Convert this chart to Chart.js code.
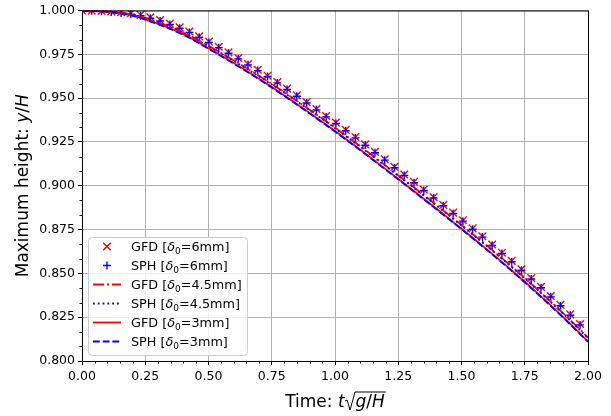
<!DOCTYPE html>
<html><head><meta charset="utf-8">
<script src="https://cdn.jsdelivr.net/npm/chart.js@4.4.0/dist/chart.umd.min.js"></script>
<style>html,body{margin:0;padding:0;background:#fff;}canvas{display:block;}</style>
</head><body>
<canvas id="c" width="611" height="416"></canvas>
<script>
// ---- data ----
const markerTime = [0.0000,0.0386,0.0772,0.1158,0.1544,0.1930,0.2316,0.2702,0.3088,0.3474,0.3860,0.4246,0.4632,0.5018,0.5404,0.5790,0.6176,0.6562,0.6948,0.7334,0.7720,0.8106,0.8492,0.8878,0.9264,0.9650,1.0036,1.0422,1.0808,1.1194,1.1580,1.1966,1.2352,1.2738,1.3124,1.3510,1.3896,1.4282,1.4668,1.5054,1.5440,1.5826,1.6212,1.6598,1.6984,1.7370,1.7756,1.8142,1.8528,1.8914,1.9300,1.9686];
const gfd6mm = [1.0000,0.9999,0.9998,0.9995,0.9990,0.9984,0.9975,0.9961,0.9945,0.9925,0.9904,0.9880,0.9852,0.9823,0.9793,0.9761,0.9729,0.9695,0.9662,0.9628,0.9592,0.9554,0.9516,0.9477,0.9438,0.9398,0.9360,0.9319,0.9278,0.9236,0.9193,0.9151,0.9108,0.9064,0.9022,0.8978,0.8935,0.8891,0.8847,0.8803,0.8757,0.8712,0.8665,0.8618,0.8571,0.8523,0.8473,0.8423,0.8371,0.8320,0.8266,0.8211];
const sph6mm = [1.0000,0.9998,0.9996,0.9992,0.9986,0.9979,0.9970,0.9956,0.9940,0.9920,0.9899,0.9875,0.9847,0.9818,0.9788,0.9756,0.9724,0.9690,0.9657,0.9623,0.9587,0.9549,0.9511,0.9472,0.9433,0.9393,0.9355,0.9314,0.9273,0.9231,0.9188,0.9146,0.9103,0.9059,0.9017,0.8973,0.8930,0.8886,0.8842,0.8798,0.8752,0.8707,0.8660,0.8613,0.8566,0.8518,0.8468,0.8418,0.8366,0.8315,0.8261,0.8206];
const lineTime = [0.0,0.1,0.2,0.3,0.4,0.5,0.6,0.7,0.8,0.9,1.0,1.1,1.2,1.3,1.4,1.5,1.6,1.7,1.8,1.9,2.0];
const gfd45mm = [1.0000,0.9995,0.9977,0.9933,0.9876,0.9798,0.9715,0.9627,0.9533,0.9434,0.9332,0.9225,0.9115,0.9004,0.8891,0.8776,0.8659,0.8537,0.8409,0.8275,0.8134];
const sph45mm = [1.0000,0.9994,0.9975,0.9930,0.9873,0.9795,0.9712,0.9624,0.9530,0.9431,0.9329,0.9222,0.9112,0.9001,0.8888,0.8773,0.8656,0.8534,0.8406,0.8272,0.8131];
const gfd3mm  = [1.0000,0.9993,0.9972,0.9925,0.9865,0.9785,0.9700,0.9610,0.9515,0.9415,0.9312,0.9205,0.9095,0.8983,0.8870,0.8755,0.8637,0.8515,0.8387,0.8253,0.8112];
const sph3mm  = [1.0000,0.9992,0.9970,0.9922,0.9862,0.9782,0.9697,0.9607,0.9512,0.9412,0.9309,0.9202,0.9092,0.8980,0.8867,0.8752,0.8634,0.8512,0.8384,0.8250,0.8109];
const xTickValues = [0.00,0.25,0.50,0.75,1.00,1.25,1.50,1.75,2.00];
const yTickValues = [0.800,0.825,0.850,0.875,0.900,0.925,0.950,0.975,1.000];
const methods = ['GFD','SPH','GFD','SPH','GFD','SPH'];
const sizes = ['6mm','6mm','4.5mm','4.5mm','3mm','3mm'];

const FONT = "'DejaVu Sans', sans-serif";
const RED = 'rgb(255,0,0)', BLUE = 'rgb(0,0,255)';
const pts = (xs, ys) => xs.map((v, i) => ({x: v, y: ys[i]}));

const datasets = [
  {data: pts(markerTime, gfd6mm), showLine: false, pointStyle: 'crossRot', pointRadius: 5.4, pointBorderWidth: 1.4, pointBorderColor: RED, borderColor: RED, backgroundColor: RED, marker: true},
  {data: pts(markerTime, sph6mm), showLine: false, pointStyle: 'cross', pointRadius: 4.0, pointBorderWidth: 1.4, pointBorderColor: BLUE, borderColor: BLUE, backgroundColor: BLUE, marker: true},
  {data: pts(lineTime, gfd45mm), borderColor: RED, borderWidth: 1.8, borderDash: [11, 3, 2, 3], pointRadius: 0},
  {data: pts(lineTime, sph45mm), borderColor: BLUE, borderWidth: 1.8, borderDash: [1.8, 3], pointRadius: 0},
  {data: pts(lineTime, gfd3mm), borderColor: RED, borderWidth: 1.8, borderDash: [], pointRadius: 0},
  {data: pts(lineTime, sph3mm), borderColor: BLUE, borderWidth: 1.8, borderDash: [6.8, 2.9], pointRadius: 0}
];
datasets.forEach((d, i) => {
  d.label = methods[i] + ' [δ0=' + sizes[i] + ']';
  d.order = datasets.length - i; // later datasets drawn on top
  d.fill = false;
  d.cubicInterpolationMode = 'monotone';
  d.borderCapStyle = 'butt';
});

function fontFor(seg, size) {
  const s = seg.sub ? size * 0.7 : size;
  return (seg.italic ? 'italic ' : '') + s + 'px ' + FONT;
}
function segWidth(ctx, seg, size) {
  if (seg.sqrt) return seg.w;
  ctx.font = fontFor(seg, size);
  return ctx.measureText(seg.t).width;
}
function drawRich(ctx, segs, x, y, size, align) {
  let total = 0;
  segs.forEach(s => total += segWidth(ctx, s, size));
  let cx = align === 'center' ? x - total / 2 : x;
  ctx.textBaseline = 'alphabetic';
  ctx.textAlign = 'left';
  segs.forEach((s, i) => {
    const w = segWidth(ctx, s, size);
    if (s.sqrt) {
      let barW = 0;
      for (let j = i + 1; j < segs.length; j++) barW += segWidth(ctx, segs[j], size);
      ctx.save();
      ctx.strokeStyle = '#000'; ctx.lineWidth = 1;
      ctx.beginPath();
      ctx.moveTo(cx + 0.5, y - 6);
      ctx.lineTo(cx + 2.5, y - 7);
      ctx.lineTo(cx + 5.5, y + 3);
      ctx.lineTo(cx + w - 0.5, y - 15);
      ctx.lineTo(cx + w + barW + 1, y - 15);
      ctx.stroke();
      ctx.restore();
    } else {
      ctx.font = fontFor(s, size);
      ctx.fillText(s.t, cx, y + (s.sub ? size * 0.22 : 0));
    }
    cx += w;
  });
}

const extras = {
  id: 'extras',
  afterDraw(chart) {
    const {ctx, chartArea: ca, scales: {x, y}} = chart;
    ctx.save();
    ctx.fillStyle = '#000';
    ctx.strokeStyle = '#000'; ctx.lineWidth = 1;
    ctx.beginPath();
    ctx.moveTo(ca.left, ca.top + 0.5); ctx.lineTo(ca.right + 0.5, ca.top + 0.5);
    ctx.moveTo(ca.right + 0.5, ca.top); ctx.lineTo(ca.right + 0.5, ca.bottom);
    ctx.stroke();
    ctx.beginPath();
    for (let k = 1; k < 40; k++) {
      if (k % 5 === 0) continue;
      const px = Math.round(x.getPixelForValue(k * 0.05)) + 0.5;
      ctx.moveTo(px, ca.bottom); ctx.lineTo(px, ca.bottom + 2.5);
    }
    for (let k = 1; k < 24; k++) {
      if (k % 3 === 0) continue;
      const py = Math.round(y.getPixelForValue(0.8 + k * 0.025 / 3)) + 0.5;
      ctx.moveTo(ca.left, py); ctx.lineTo(ca.left - 2.5, py);
    }
    ctx.stroke();
    const cxMid = (ca.left + ca.right) / 2;
    drawRich(ctx, [{t: 'Time: '}, {t: 't', italic: true}, {sqrt: true, w: 11}, {t: 'g', italic: true}, {t: '/'}, {t: 'H', italic: true}], cxMid, 407, 17, 'center');
    ctx.save();
    ctx.translate(28, (ca.top + ca.bottom) / 2);
    ctx.rotate(-Math.PI / 2);
    drawRich(ctx, [{t: 'Maximum height: '}, {t: 'y', italic: true}, {t: '/'}, {t: 'H', italic: true}], 0, 0, 17, 'center');
    ctx.restore();
    // legend
    const bx = 88.5, by = 237.5, bw = 159, bh = 118;
    ctx.beginPath();
    ctx.roundRect(bx, by, bw, bh, 4);
    ctx.fillStyle = 'rgba(255,255,255,0.8)'; ctx.fill();
    ctx.strokeStyle = '#cccccc'; ctx.lineWidth = 1; ctx.stroke();
    chart.data.datasets.forEach((d, i) => {
      const cy = 246.5 + i * 19;
      ctx.save();
      if (d.marker) {
        ctx.strokeStyle = d.pointBorderColor; ctx.lineWidth = d.pointBorderWidth;
        ctx.beginPath();
        if (d.pointStyle === 'cross') {
          const r = d.pointRadius;
          ctx.moveTo(107 - r, cy); ctx.lineTo(107 + r, cy);
          ctx.moveTo(107, cy - r); ctx.lineTo(107, cy + r);
        } else {
          const r = d.pointRadius * Math.SQRT1_2;
          ctx.moveTo(107 - r, cy - r); ctx.lineTo(107 + r, cy + r);
          ctx.moveTo(107 - r, cy + r); ctx.lineTo(107 + r, cy - r);
        }
        ctx.stroke();
      } else {
        ctx.strokeStyle = d.borderColor; ctx.lineWidth = d.borderWidth;
        ctx.setLineDash(d.borderDash); ctx.lineCap = 'butt';
        ctx.beginPath(); ctx.moveTo(93, cy); ctx.lineTo(121, cy); ctx.stroke();
      }
      ctx.restore();
      ctx.fillStyle = '#000';
      drawRich(ctx, [{t: methods[i] + ' ['}, {t: 'δ', italic: true}, {t: '0', sub: true}, {t: '=' + sizes[i] + ']'}], 131, cy + 4.5, 12.8, 'left');
    });
    ctx.restore();
  }
};

new Chart(document.getElementById('c'), {
  type: 'line',
  data: {datasets},
  options: {
    responsive: false, animation: false, devicePixelRatio: 1,
    layout: {padding: {left: 0, right: 23, top: 10, bottom: 0}},
    plugins: {legend: {display: false}, tooltip: {enabled: false}},
    scales: {
      x: {
        type: 'linear', min: 0, max: 2,
        afterBuildTicks: s => { s.ticks = xTickValues.map(v => ({value: v})); },
        afterFit: s => { s.height = 55; },
        ticks: {callback: v => v.toFixed(2), color: '#000', font: {family: FONT, size: 12.5}, padding: 4, maxRotation: 0, autoSkip: false},
        grid: {color: '#b0b0b0', lineWidth: 1, tickLength: 4, tickColor: '#000', tickWidth: 1},
        border: {color: '#000', width: 1}
      },
      y: {
        type: 'linear', min: 0.8, max: 1.0,
        afterBuildTicks: s => { s.ticks = yTickValues.map(v => ({value: v})); },
        afterFit: s => { s.width = 82; },
        ticks: {callback: v => v.toFixed(3), color: '#000', font: {family: FONT, size: 12.5}, padding: 3, autoSkip: false},
        grid: {color: '#b0b0b0', lineWidth: 1, tickLength: 4, tickColor: '#000', tickWidth: 1},
        border: {color: '#000', width: 1}
      }
    }
  },
  plugins: [extras]
});
</script>
</body></html>
